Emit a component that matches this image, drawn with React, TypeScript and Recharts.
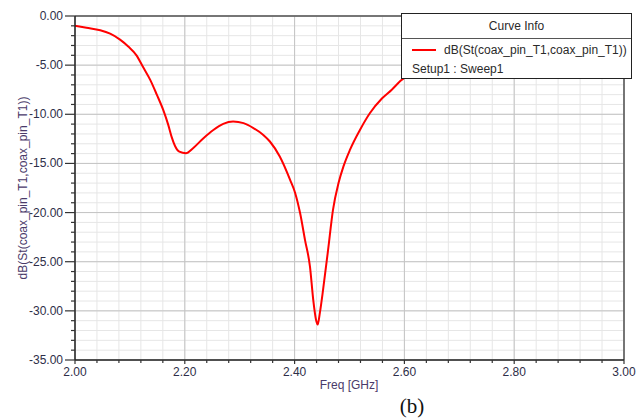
import { LineChart, Line, XAxis, YAxis, CartesianGrid, ReferenceLine, Legend } from "recharts"

// frequency sweep (GHz) and return loss (dB)
const freq = [
  2.0, 2.021, 2.046, 2.064, 2.082, 2.097, 2.112, 2.124, 2.137, 2.149,
  2.161, 2.17, 2.176, 2.182, 2.19, 2.202, 2.215, 2.234, 2.252, 2.27,
  2.288, 2.307, 2.325, 2.343, 2.355, 2.373, 2.392, 2.401, 2.41, 2.419,
  2.428, 2.434, 2.439, 2.442, 2.446, 2.452, 2.461, 2.47, 2.48, 2.489,
  2.501, 2.519, 2.537, 2.559, 2.577, 2.593, 2.65, 2.7, 2.8, 2.9, 3.0,
]
const s11 = [
  -1.0, -1.2, -1.45, -1.8, -2.4, -3.1, -4.0, -5.2, -6.5, -8.0,
  -9.6, -11.1, -12.3, -13.2, -13.8, -13.96, -13.45, -12.43, -11.6, -10.98,
  -10.74, -10.9, -11.4, -12.1, -12.77, -14.3, -16.7, -18.0, -20.05, -22.8,
  -25.5, -28.9, -30.9, -31.4, -30.2, -27.8, -23.8, -19.7, -17.0, -15.3,
  -13.6, -11.6, -9.9, -8.4, -7.5, -6.6, -5.0, -4.1, -3.0, -2.4, -2.1,
]

const xMajor = [2.0, 2.2, 2.4, 2.6, 2.8, 3.0]
const yMajor = [0, -5, -10, -15, -20, -25, -30, -35]
const xMinor = Array.from({ length: 26 }, (_, i) => +(2 + i * 0.04).toFixed(2))
const yMinor = Array.from({ length: 36 }, (_, i) => -i)

const data = freq.map((f, i) => ({ freq: f, db: s11[i] }))

const font = "'Liberation Sans', Arial, sans-serif"
const tickColor = "#2e2e48"

const isMajorX = (v: number) => xMajor.some((m) => Math.abs(m - v) < 1e-6)

function YTick(props: any) {
  const { x, y, payload } = props
  const major = yMajor.includes(payload.value)
  return (
    <g>
      <line x1={x - (major ? 10 : 4)} x2={x} y1={y} y2={y} stroke="#333" strokeWidth={1.2} />
      {major && (
        <text x={x - 12} y={y} textAnchor="end" dominantBaseline="central" fontSize={12} fontFamily={font} fill={tickColor}>
          {payload.value.toFixed(2)}
        </text>
      )}
    </g>
  )
}

function XTick(props: any) {
  const { x, y, payload } = props
  const major = isMajorX(payload.value)
  return (
    <g>
      <line x1={x} x2={x} y1={y} y2={y + (major ? 4 : 3)} stroke="#333" strokeWidth={1.2} />
      {major && (
        <text x={x} y={y + 12} textAnchor="middle" dominantBaseline="central" fontSize={12} fontFamily={font} fill={tickColor}>
          {payload.value.toFixed(2)}
        </text>
      )}
    </g>
  )
}

function CurveInfo() {
  return (
    <div
      style={{
        width: 231,
        height: 66,
        background: "#fff",
        border: "1px solid #222",
        fontFamily: font,
        fontSize: 12,
        color: "#2a2a2a",
        boxSizing: "border-box",
      }}
    >
      <div style={{ textAlign: "center", height: 24, lineHeight: "24px", borderBottom: "1px solid #555" }}>Curve Info</div>
      <div style={{ display: "flex", alignItems: "center", height: 22, paddingLeft: 10 }}>
        <span style={{ display: "inline-block", width: 24, height: 2, background: "#ff0000", marginRight: 8 }} />
        <span>dB(St(coax_pin_T1,coax_pin_T1))</span>
      </div>
      <div style={{ paddingLeft: 10, height: 18, lineHeight: "16px" }}>Setup1 : Sweep1</div>
    </div>
  )
}

export default function App() {
  return (
    <div style={{ position: "absolute", left: 0, top: 0, width: 637, height: 420, background: "#fff" }}>
      <LineChart width={637} height={420} data={data} margin={{ top: 16, right: 13, bottom: 0, left: 0 }}>
        <CartesianGrid stroke="#e6e6e6" strokeWidth={1} />
        {xMajor.map((v) => (
          <ReferenceLine key={"vx" + v} x={v} stroke="#c4c4c4" strokeWidth={1} />
        ))}
        {yMajor.map((v) => (
          <ReferenceLine key={"hy" + v} y={v} stroke="#c4c4c4" strokeWidth={1} />
        ))}
        <ReferenceLine y={0} stroke="#555" strokeWidth={1.5} />
        <ReferenceLine x={3} stroke="#555" strokeWidth={1.5} />
        <XAxis
          dataKey="freq"
          type="number"
          domain={[2, 3]}
          ticks={xMinor}
          interval={0}
          height={60}
          tickSize={0}
          tickMargin={0}
          tickLine={false}
          tick={<XTick />}
          axisLine={{ stroke: "#222", strokeWidth: 1.5 }}
          label={{
            content: () => (
              <g>
                <text x={349} y={385} textAnchor="middle" dominantBaseline="central" fontSize={12} fontFamily={font} fill="#4a3a6a">
                  Freq [GHz]
                </text>
                <text x={412} y={406} textAnchor="middle" dominantBaseline="central" fontSize={21} fontFamily="'Liberation Serif', 'Times New Roman', serif" fill="#111">
                  (b)
                </text>
              </g>
            ),
          }}
        />
        <YAxis
          type="number"
          domain={[-35, 0]}
          ticks={yMinor}
          interval={0}
          width={75}
          tickSize={0}
          tickMargin={0}
          tickLine={false}
          tick={<YTick />}
          axisLine={{ stroke: "#222", strokeWidth: 1.5 }}
          label={{
            content: () => (
              <text
                x={23}
                y={188}
                transform="rotate(-90 23 188)"
                textAnchor="middle"
                dominantBaseline="central"
                fontSize={12}
                fontFamily={font}
                fill="#4a3a6a"
              >
                dB(St(coax_pin_T1,coax_pin_T1))
              </text>
            ),
          }}
        />
        <Line type="monotone" dataKey="db" stroke="#ff0000" strokeWidth={2} dot={false} isAnimationActive={false} />
        <Legend
          layout="horizontal"
          verticalAlign="middle"
          align="center"
          content={() => <CurveInfo />}
          wrapperStyle={{ position: "absolute", top: 13, left: 401, right: "auto", bottom: "auto", width: 232, height: 66 }}
        />
      </LineChart>
    </div>
  )
}
